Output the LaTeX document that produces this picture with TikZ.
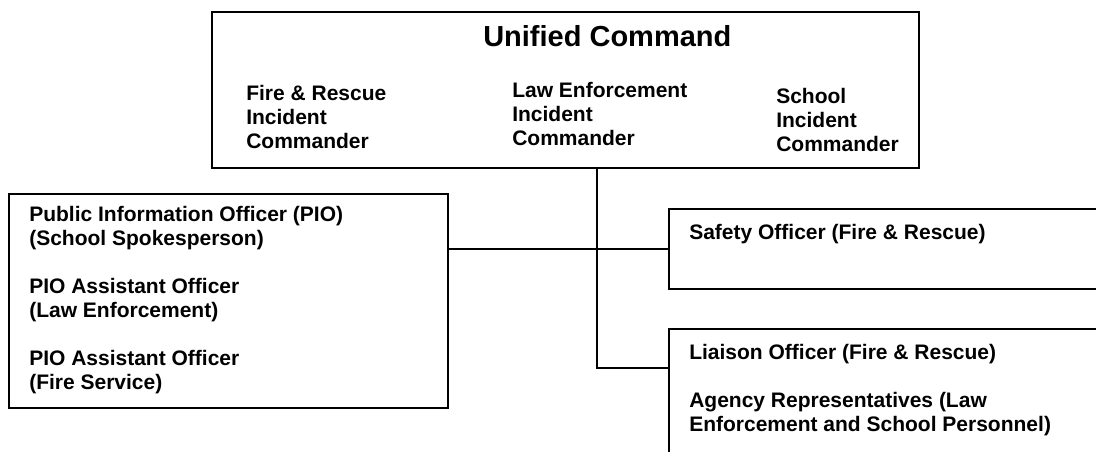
\documentclass[tikz,border=0pt]{standalone}
\usepackage{fontspec}
\setmainfont{Liberation Sans}
\usetikzlibrary{positioning}

\newcommand{\bodyfont}{\fontsize{15.75}{18}\selectfont\bfseries}
\newcommand{\titlefont}{\fontsize{21.75}{25}\selectfont\bfseries}

\tikzset{
  orgbox/.style={draw, line width=1.5pt, inner sep=0pt, anchor=north west},
  orgtext/.style={font=\bodyfont, align=left, anchor=north west, inner sep=0pt},
  link/.style={line width=0.9pt}
}

\begin{document}
\begin{tikzpicture}[x=0.75pt, y=-0.75pt]

% Page frame (1096 x 452 px)
\clip (0,0) rectangle (1096,452);

% --- Unified Command ---
\node[orgbox, minimum width=530.25pt, minimum height=117pt] (uc) at (211,11) {};
\node[font=\titlefont, anchor=base west, inner sep=0pt] (title) at (483,47) {Unified Command};
\node[orgtext] (fire) at (246,84.7) {Fire \& Rescue\\Incident\\Commander};
\node[orgtext] (law) at (512,81.7) {Law Enforcement\\Incident\\Commander};
\node[orgtext] (school) at (776,87.7) {School\\Incident\\Commander};

% --- Public information (left) ---
\node[orgbox, minimum width=329.25pt, minimum height=160.5pt] (pio) at (8,193) {};
\node[orgtext] (piotext) at (29,205.7) {Public Information Officer (PIO)\\(School Spokesperson)\\[18pt]
  PIO Assistant Officer\\(Law Enforcement)\\[18pt]
  PIO Assistant Officer\\(Fire Service)};

% --- Safety and liaison (right, running off the page) ---
\node[orgbox, minimum width=331.5pt, minimum height=60pt] (safety) at (668,208) {};
\node[orgtext] (safetytext) at (689,223.7) {Safety Officer (Fire \& Rescue)};
\node[orgbox, minimum width=331.5pt, minimum height=106.5pt] (liaison) at (668,328) {};
\node[orgtext] (liaisontext) at (689,343.7) {Liaison Officer (Fire \& Rescue)\\[18pt]
  Agency Representatives (Law\\Enforcement and School Personnel)};

% Connectors
\coordinate (stem) at ([xshift=23.6pt]uc.south);
\draw[link] (safety.west) -- (safety.west -| pio.east);
\draw[link] (stem) |- ([yshift=-30pt]liaison.north west);

\end{tikzpicture}
\end{document}
